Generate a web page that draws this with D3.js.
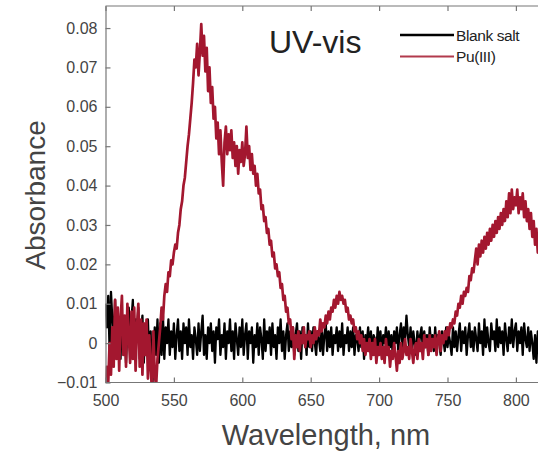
<!DOCTYPE html>
<html><head><meta charset="utf-8">
<script src="https://cdn.jsdelivr.net/npm/d3@7"></script>
<style>
html,body{margin:0;padding:0;background:#fff;}
svg{display:block;font-family:"Liberation Sans",Arial,sans-serif;}
</style></head>
<body>
<svg id="chart" width="538" height="452"></svg>
<script>
// ---- data ----
const wavelengths = d3.range(500, 821, 1); // nm, 1 nm sampling
const blankSalt = [
 0.010,0.004,0.012,-0.002,0.013,0.006,0.001,0.011,-0.003,0.008,
 0.002,-0.004,0.007,0.000,0.005,-0.005,0.004,0.009,-0.002,0.006,
 0.011,-0.003,0.006,0.002,0.009,-0.004,0.003,0.007,-0.005,0.004,
 -0.002,0.006,-0.004,0.003,-0.012,-0.006,0.004,-0.003,0.006,-0.005,
 0.005,-0.003,0.007,-0.004,0.004,0.000,0.006,-0.003,0.003,-0.001,
 0.005,-0.004,0.002,0.006,-0.002,0.003,-0.004,0.005,0.000,0.004,
 -0.003,0.006,-0.001,0.002,-0.004,0.004,0.001,-0.003,0.005,-0.002,
 0.003,0.007,-0.003,0.002,-0.004,0.004,0.000,0.005,-0.002,0.003,
 -0.005,0.004,0.001,0.006,-0.003,0.002,-0.001,0.005,-0.004,0.003,
 0.000,0.006,-0.002,0.003,-0.004,0.005,0.001,-0.003,0.004,-0.001,
 0.006,-0.003,0.002,0.005,-0.004,0.003,0.000,0.004,-0.005,0.002,
 -0.001,0.005,-0.003,0.004,0.001,-0.004,0.006,-0.002,0.003,0.000,
 0.004,-0.003,0.005,-0.001,0.002,-0.004,0.004,0.000,0.006,-0.002,
 0.003,-0.004,0.002,0.005,-0.002,0.003,-0.001,0.004,-0.003,0.002,
 0.005,-0.002,0.003,-0.004,0.004,0.000,0.002,-0.003,0.005,-0.001,
 0.003,-0.002,0.004,0.000,-0.003,0.003,0.001,-0.002,0.004,-0.003,
 0.002,0.005,-0.002,0.003,-0.001,0.004,-0.003,0.002,0.000,0.004,
 -0.002,0.003,-0.001,0.005,-0.003,0.002,0.000,0.004,-0.002,0.003,
 -0.001,0.004,-0.003,0.002,0.001,-0.002,0.004,-0.001,0.003,-0.004,
 0.002,0.000,0.004,-0.002,0.003,-0.003,0.002,0.001,-0.002,0.004,
 -0.001,0.003,-0.003,0.002,0.000,0.004,-0.002,0.003,-0.001,0.002,
 -0.003,0.003,0.000,0.004,-0.002,0.002,0.005,-0.001,0.004,0.001,
 0.007,0.002,-0.001,0.004,-0.002,0.003,0.000,-0.003,0.003,-0.001,
 0.002,0.004,-0.002,0.003,-0.001,0.002,-0.003,0.004,0.000,0.002,
 -0.002,0.004,-0.001,0.002,0.000,-0.003,0.003,0.001,-0.002,0.004,
 -0.001,0.002,0.000,-0.003,0.004,-0.001,0.003,-0.002,0.002,0.005,
 -0.002,0.003,0.000,0.004,-0.003,0.002,0.005,-0.001,0.003,-0.002,
 0.004,0.001,-0.002,0.005,0.000,0.003,-0.003,0.006,-0.001,0.004,
 0.000,-0.002,0.005,0.001,0.003,-0.002,0.006,-0.001,0.004,0.000,
 0.003,-0.003,0.005,0.001,-0.002,0.004,0.000,0.006,-0.001,0.003,
 0.005,-0.002,0.003,0.000,0.004,-0.003,0.005,0.001,-0.001,0.004,
 -0.002,0.003,0.000,-0.004,0.002,-0.005,0.003,-0.001,0.004,-0.002,
 0.002
];
const puIII = [
 -0.012,-0.006,-0.010,0.000,-0.008,0.004,-0.006,0.011,-0.004,0.009,
 -0.007,0.006,0.012,-0.003,0.007,-0.006,0.010,0.002,-0.005,0.008,
 -0.004,0.009,-0.007,0.004,0.010,-0.006,0.006,-0.008,0.005,-0.003,
 0.006,-0.009,0.002,-0.006,-0.012,0.003,-0.008,-0.011,-0.004,0.000,
 0.004,0.009,0.006,0.012,0.015,0.013,0.018,0.017,0.021,0.020,
 0.023,0.025,0.024,0.028,0.030,0.034,0.036,0.040,0.042,0.046,
 0.050,0.053,0.057,0.061,0.066,0.072,0.070,0.076,0.068,0.074,
 0.081,0.073,0.078,0.069,0.075,0.064,0.070,0.061,0.065,0.057,
 0.060,0.052,0.056,0.048,0.054,0.046,0.040,0.051,0.055,0.048,
 0.053,0.049,0.054,0.047,0.051,0.045,0.050,0.043,0.049,0.046,
 0.051,0.045,0.048,0.055,0.047,0.050,0.044,0.048,0.043,0.045,
 0.040,0.043,0.038,0.039,0.034,0.035,0.031,0.032,0.028,0.029,
 0.025,0.026,0.022,0.023,0.019,0.020,0.017,0.018,0.014,0.015,
 0.011,0.012,0.008,0.009,0.005,0.006,0.001,0.004,-0.004,0.002,
 -0.001,0.003,-0.002,0.002,0.000,0.004,-0.001,0.002,0.001,0.003,
 -0.001,0.002,0.000,0.004,0.001,0.003,0.002,0.006,0.003,0.005,
 0.004,0.007,0.005,0.008,0.006,0.009,0.008,0.011,0.009,0.012,
 0.010,0.013,0.011,0.012,0.010,0.011,0.008,0.009,0.006,0.007,
 0.005,0.006,0.003,0.004,0.001,0.003,0.000,0.002,-0.002,0.001,
 -0.003,0.000,-0.002,0.001,-0.004,0.000,-0.003,0.001,-0.005,-0.001,
 -0.003,0.000,-0.004,-0.001,-0.005,0.001,-0.003,-0.001,-0.006,-0.002,
 -0.004,0.000,-0.003,-0.007,-0.002,-0.005,0.000,-0.004,-0.002,0.001,
 -0.003,-0.001,-0.004,0.001,-0.002,-0.005,-0.001,0.000,-0.004,0.001,
 -0.002,0.000,-0.004,0.002,-0.001,0.001,-0.003,0.002,-0.002,0.001,
 -0.001,0.002,-0.003,0.001,0.003,-0.002,0.002,0.000,0.003,0.001,
 0.004,0.002,0.005,0.004,0.006,0.005,0.008,0.007,0.010,0.009,
 0.012,0.010,0.013,0.012,0.014,0.013,0.017,0.016,0.019,0.018,
 0.021,0.024,0.020,0.025,0.022,0.026,0.023,0.027,0.024,0.028,
 0.025,0.029,0.026,0.030,0.027,0.031,0.028,0.032,0.029,0.033,
 0.030,0.034,0.031,0.036,0.032,0.038,0.033,0.039,0.034,0.037,
 0.035,0.039,0.033,0.037,0.034,0.038,0.032,0.036,0.031,0.034,
 0.029,0.033,0.027,0.031,0.025,0.029,0.023,0.028,0.024,0.027,
 0.025
];
const seriesNames = ["Blank salt", "Pu(III)"];
const seriesColors = ["#000000", "#a3172f"];
const xTicks = [500, 550, 600, 650, 700, 750, 800];
const yTicks = [-0.01, 0, 0.01, 0.02, 0.03, 0.04, 0.05, 0.06, 0.07, 0.08];

// ---- layout ----
const svg = d3.select("#chart");
const L = 105.5, T = 6, B = 382.5;
const x = d3.scaleLinear().domain([500, 850]).range([L, L + 350 * 1.368]);
const y = d3.scaleLinear().domain([-0.01, 0.0856]).range([B, T]);
const axisCol = "#777";

svg.append("defs").append("clipPath").attr("id", "clip")
  .append("rect").attr("x", L).attr("y", T).attr("width", 600).attr("height", B - T);

const mk = vals => wavelengths.map((w, i) => [w, vals[i]]).filter(d => d[1] !== undefined);
const line = d3.line().x(d => x(d[0])).y(d => y(d[1]));
const g = svg.append("g").attr("clip-path", "url(#clip)");
[blankSalt, puIII].forEach((vals, k) => {
  g.append("path").datum(mk(vals))
    .attr("fill", "none").attr("stroke", seriesColors[k])
    .attr("stroke-width", k === 0 ? 2.3 : 2.7).attr("stroke-linejoin", "round")
    .attr("d", line);
});

// axes
const fmtY = v => (Math.abs(v) < 1e-9 ? "0" : d3.format(".2f")(v));
const ax = svg.append("g").attr("transform", `translate(0,${B})`)
  .call(d3.axisBottom(x).tickValues(xTicks).tickSizeInner(-5).tickSizeOuter(0).tickPadding(12));
const axT = svg.append("g").attr("transform", `translate(0,${T})`)
  .call(d3.axisTop(x).tickValues(xTicks).tickSizeInner(-5).tickSizeOuter(0).tickFormat(""));
const ay = svg.append("g").attr("transform", `translate(${L},0)`)
  .call(d3.axisLeft(y).tickValues(yTicks).tickSizeInner(-5).tickSizeOuter(0).tickPadding(8).tickFormat(fmtY));
[ax, axT, ay].forEach(a => {
  a.selectAll(".domain").attr("stroke", axisCol).attr("stroke-width", 1.2);
  a.selectAll(".tick line").attr("stroke", axisCol).attr("stroke-width", 1.2);
  a.selectAll(".tick text").attr("fill", "#444").attr("font-size", 16)
    .attr("font-family", "'Liberation Sans', Arial, sans-serif");
});
ax.select(".domain").attr("d", `M${L},0H538`);
axT.select(".domain").attr("d", `M${L},0H538`);

// axis titles
svg.append("text").attr("x", 326).attr("y", 445).attr("text-anchor", "middle")
  .attr("font-size", 29).attr("fill", "#444").text("Wavelength, nm");
svg.append("text").attr("transform", "translate(45,195) rotate(-90)").attr("text-anchor", "middle")
  .attr("font-size", 28).attr("fill", "#444").text("Absorbance");

// in-plot title
svg.append("text").attr("x", 269).attr("y", 53).attr("font-size", 32)
  .attr("fill", "#222").text("UV-vis");

// legend
const legY = [35, 56.5];
seriesNames.forEach((n, k) => {
  svg.append("line").attr("x1", 400).attr("x2", 454).attr("y1", legY[k]).attr("y2", legY[k])
    .attr("stroke", k === 0 ? "#000" : "#b23a4c").attr("stroke-width", k === 0 ? 2.6 : 2);
  svg.append("text").attr("x", 456).attr("y", legY[k] + 5.5).attr("font-size", 15.5)
    .attr("fill", "#222").attr("letter-spacing", -0.4).text(n);
});
</script>
</body></html>
